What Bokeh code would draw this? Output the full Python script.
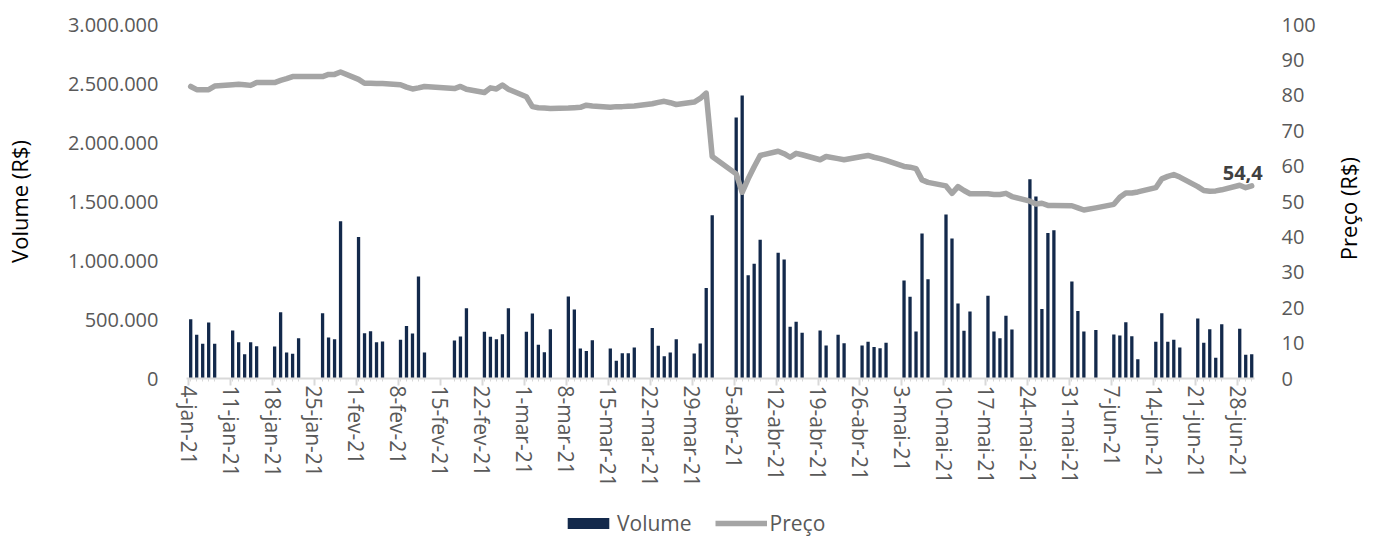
import math
import pandas as pd
from bokeh.plotting import figure
from bokeh.layouts import gridplot
from bokeh.models import (Range1d, LinearAxis, FixedTicker, CustomJSTickFormatter,
                          Legend, LegendItem, Label, ColumnDataSource)
from bokeh.embed import file_html
from bokeh.resources import INLINE

# ---------------- data ----------------
dates = [
    "2021-01-04", "2021-01-05", "2021-01-06", "2021-01-07", "2021-01-08",
    "2021-01-11", "2021-01-12", "2021-01-13", "2021-01-14", "2021-01-15",
    "2021-01-18", "2021-01-19", "2021-01-20", "2021-01-21", "2021-01-22",
    "2021-01-26", "2021-01-27", "2021-01-28", "2021-01-29",
    "2021-02-01", "2021-02-02", "2021-02-03", "2021-02-04", "2021-02-05",
    "2021-02-08", "2021-02-09", "2021-02-10", "2021-02-11", "2021-02-12",
    "2021-02-17", "2021-02-18", "2021-02-19",
    "2021-02-22", "2021-02-23", "2021-02-24", "2021-02-25", "2021-02-26",
    "2021-03-01", "2021-03-02", "2021-03-03", "2021-03-04", "2021-03-05",
    "2021-03-08", "2021-03-09", "2021-03-10", "2021-03-11", "2021-03-12",
    "2021-03-15", "2021-03-16", "2021-03-17", "2021-03-18", "2021-03-19",
    "2021-03-22", "2021-03-23", "2021-03-24", "2021-03-25", "2021-03-26",
    "2021-03-29", "2021-03-30", "2021-03-31", "2021-04-01",
    "2021-04-05", "2021-04-06", "2021-04-07", "2021-04-08", "2021-04-09",
    "2021-04-12", "2021-04-13", "2021-04-14", "2021-04-15", "2021-04-16",
    "2021-04-19", "2021-04-20", "2021-04-22", "2021-04-23",
    "2021-04-26", "2021-04-27", "2021-04-28", "2021-04-29", "2021-04-30",
    "2021-05-03", "2021-05-04", "2021-05-05", "2021-05-06", "2021-05-07",
    "2021-05-10", "2021-05-11", "2021-05-12", "2021-05-13", "2021-05-14",
    "2021-05-17", "2021-05-18", "2021-05-19", "2021-05-20", "2021-05-21",
    "2021-05-24", "2021-05-25", "2021-05-26", "2021-05-27", "2021-05-28",
    "2021-05-31", "2021-06-01", "2021-06-02", "2021-06-04",
    "2021-06-07", "2021-06-08", "2021-06-09", "2021-06-10", "2021-06-11",
    "2021-06-14", "2021-06-15", "2021-06-16", "2021-06-17", "2021-06-18",
    "2021-06-21", "2021-06-22", "2021-06-23", "2021-06-24", "2021-06-25",
    "2021-06-28", "2021-06-29", "2021-06-30",
]

volume = [
    503000, 370000, 294000, 475000, 294000,
    407000, 308000, 206000, 308000, 274000,
    271000, 562000, 220000, 209000, 342000,
    554000, 347000, 333000, 1333000,
    1200000, 384000, 401000, 308000, 314000,
    328000, 444000, 381000, 864000, 220000,
    322000, 356000, 596000,
    396000, 353000, 333000, 376000, 596000,
    396000, 551000, 285000, 223000, 418000,
    695000, 585000, 254000, 232000, 325000,
    254000, 150000, 215000, 215000, 263000,
    427000, 277000, 189000, 220000, 333000,
    212000, 297000, 766000, 1384000,
    2212000, 2398000, 876000, 972000, 1175000,
    1065000, 1009000, 438000, 480000, 387000,
    407000, 280000, 370000, 299000,
    280000, 311000, 268000, 257000, 302000,
    831000, 692000, 398000, 1229000, 842000,
    1390000, 1187000, 636000, 404000, 568000,
    701000, 398000, 342000, 531000, 415000,
    1689000, 1542000, 590000, 1232000, 1257000,
    822000, 573000, 398000, 412000,
    373000, 364000, 477000, 359000, 164000,
    311000, 554000, 311000, 328000, 263000,
    509000, 302000, 418000, 175000, 460000,
    421000, 201000, 206000,
]

price = [
    82.5, 81.6, 81.6, 81.6, 82.6,
    83.0, 83.1, 83.0, 82.8, 83.6,
    83.6, 84.2, 84.7, 85.3, 85.3,
    85.3, 85.9, 85.9, 86.6,
    84.5, 83.4, 83.4, 83.3, 83.3,
    83.0, 82.3, 81.8, 82.1, 82.5,
    81.9, 82.5, 81.7,
    80.8, 82.1, 81.8, 82.9, 81.7,
    79.6, 76.8, 76.5, 76.4, 76.3,
    76.4, 76.5, 76.6, 77.2, 77.0,
    76.6, 76.8, 76.8, 76.9, 77.0,
    77.6, 78.0, 78.3, 77.9, 77.4,
    78.1, 79.1, 80.6, 62.7,
    57.8, 52.6, 56.4, 59.8, 63.0,
    64.2, 63.5, 62.5, 63.6, 63.2,
    61.8, 62.7, 62.1, 61.8,
    62.7, 63.0, 62.5, 62.1, 61.6,
    59.9, 59.7, 59.3, 56.1, 55.4,
    54.4, 52.3, 54.2, 53.1, 52.2,
    52.2, 52.0, 52.0, 52.3, 51.4,
    50.1, 49.3, 49.5, 48.9, 48.9,
    48.8, 48.2, 47.6, 48.2,
    49.2, 51.2, 52.4, 52.4, 52.7,
    53.9, 56.4, 57.1, 57.6, 56.9,
    54.2, 53.1, 52.9, 53.0, 53.3,
    54.6, 53.9, 54.4,
]

week_ticks = [
    "2021-01-04", "2021-01-11", "2021-01-18", "2021-01-25", "2021-02-01",
    "2021-02-08", "2021-02-15", "2021-02-22", "2021-03-01", "2021-03-08",
    "2021-03-15", "2021-03-22", "2021-03-29", "2021-04-05", "2021-04-12",
    "2021-04-19", "2021-04-26", "2021-05-03", "2021-05-10", "2021-05-17",
    "2021-05-24", "2021-05-31", "2021-06-07", "2021-06-14", "2021-06-21",
    "2021-06-28",
]
last_label = "54,4"
right_title = "Preço (R$)"

# ---------------- chart ----------------
DAY = 86400000.0
dt = pd.to_datetime(dates)
src = ColumnDataSource(dict(x=dt, volume=volume, price=price))

first_ms = pd.Timestamp(dates[0]).value / 1e6
last_ms = pd.Timestamp(dates[-1]).value / 1e6
x_start = first_ms - 0.7 * DAY
axis_end = last_ms + 0.45 * DAY          # end of the drawn x axis line
x_end = last_ms + 2.8 * DAY              # frame a bit wider so the end label is not cut

FONT = "Open Sans"
GRAY = "#595959"
NAVY = "#13294B"
LINEGRAY = "#A5A5A5"

MAIN_W, TITLE_W = 1336, 28
B_LEFT, B_RIGHT, B_TOP, B_BOTTOM = 181, 68, 24, 119
MAIN_H, LEG_H = 497, 40

p = figure(width=MAIN_W, height=MAIN_H, x_axis_type="datetime",
           x_range=Range1d(x_start, x_end), y_range=Range1d(0, 3000000),
           output_backend="svg", toolbar_location=None,
           min_border_left=B_LEFT, min_border_right=B_RIGHT,
           min_border_top=B_TOP, min_border_bottom=B_BOTTOM)
p.extra_y_ranges = {"price": Range1d(0, 100)}
p.outline_line_color = None
p.xgrid.visible = False
p.ygrid.visible = False

p.vbar(x="x", top="volume", width=0.55 * DAY, source=src,
       fill_color=NAVY, line_color=None)
p.line(x="x", y="price", source=src, y_range_name="price",
       line_color=LINEGRAY, line_width=5.5, line_join="round", line_cap="round")

# x axis
tick_vals = [pd.Timestamp(d).value / 1e6 - 0.35 * DAY for d in week_ticks]
minor_vals = [pd.Timestamp(d).value / 1e6 for d in dates]
xa = p.xaxis[0]
xa.bounds = (x_start, axis_end)
xa.ticker = FixedTicker(ticks=tick_vals, minor_ticks=minor_vals)
xa.formatter = CustomJSTickFormatter(code="""
const m=['jan','fev','mar','abr','mai','jun','jul','ago','set','out','nov','dez'];
const d=new Date(tick+43200000);
return d.getUTCDate()+'-'+m[d.getUTCMonth()]+'-'+String(d.getUTCFullYear()).slice(2);
""")
xa.major_label_orientation = -math.pi / 2
xa.axis_line_color = "#D9D9D9"
xa.axis_line_width = 2
xa.major_tick_line_color = "#D9D9D9"
xa.major_tick_line_width = 2
xa.major_tick_in = 0
xa.major_tick_out = 7
xa.minor_tick_line_color = "#D9D9D9"
xa.minor_tick_in = 0
xa.minor_tick_out = 3
xa.major_label_standoff = 0
xa.major_label_text_font = FONT
xa.major_label_text_font_size = "21px"
xa.major_label_text_color = GRAY

# left axis
ya = p.yaxis[0]
ya.ticker = FixedTicker(ticks=[0, 500000, 1000000, 1500000, 2000000, 2500000, 3000000])
ya.formatter = CustomJSTickFormatter(code="""
return Math.round(tick).toString().replace(/\\B(?=(\\d{3})+(?!\\d))/g, '.');
""")
ya.axis_line_color = None
ya.major_tick_line_color = None
ya.minor_tick_line_color = None
ya.major_label_standoff = 22
ya.major_label_text_font = FONT
ya.major_label_text_font_size = "20px"
ya.major_label_text_color = GRAY
ya.axis_label = "Volume (R$)"
ya.axis_label_text_font = FONT
ya.axis_label_text_font_size = "22px"
ya.axis_label_text_font_style = "normal"
ya.axis_label_text_color = "#000000"
ya.axis_label_standoff = 31

# right axis (its title is drawn in the narrow strip to the right)
ra = LinearAxis(y_range_name="price", ticker=FixedTicker(ticks=list(range(0, 101, 10))))
ra.axis_line_color = None
ra.major_tick_line_color = None
ra.minor_tick_line_color = None
ra.major_label_standoff = 7
ra.major_label_text_font = FONT
ra.major_label_text_font_size = "20px"
ra.major_label_text_color = GRAY
p.add_layout(ra, "right")

# last value label
lab = Label(x=minor_vals[-1], y=price[-1], y_range_name="price", text=last_label,
            x_offset=-9, y_offset=13, text_align="center", text_baseline="alphabetic",
            text_font=FONT, text_font_size="20px", text_font_style="bold",
            text_color="#404040")
p.add_layout(lab)

# narrow strip holding the right axis title, reading bottom-to-top
r = figure(width=TITLE_W, height=MAIN_H, x_range=Range1d(0, 1), y_range=Range1d(0, 1),
           output_backend="svg", toolbar_location=None,
           x_axis_location=None, y_axis_location=None,
           min_border_left=0, min_border_right=0,
           min_border_top=B_TOP, min_border_bottom=B_BOTTOM)
r.outline_line_color = None
r.xgrid.visible = False
r.ygrid.visible = False
r.add_layout(Label(x=0.42, y=0.48, text=right_title, angle=math.pi / 2,
                   text_align="center", text_baseline="middle",
                   text_font=FONT, text_font_size="22px", text_color="#000000"))

# legend strip (separate small figure so nothing gets clipped)
q = figure(width=MAIN_W, height=LEG_H, x_range=Range1d(0, 1), y_range=Range1d(0, 1),
           output_backend="svg", toolbar_location=None,
           x_axis_location=None, y_axis_location=None,
           min_border_left=B_LEFT, min_border_right=B_RIGHT,
           min_border_top=0, min_border_bottom=0)
q.outline_line_color = None
q.xgrid.visible = False
q.ygrid.visible = False
# legend-only renderers: their data lie below the visible range
rb = q.vbar(x=[0.5], bottom=[-3], top=[-2], width=0.1, fill_color=NAVY, line_color=None)
rl = q.line(x=[0.4, 0.6], y=[-3, -3], line_color=LINEGRAY, line_width=5.5)
legend = Legend(items=[LegendItem(label="Volume", renderers=[rb]),
                       LegendItem(label="Preço", renderers=[rl])],
                orientation="horizontal", location=(376, 0),
                glyph_width=52, glyph_height=14, label_standoff=3, spacing=23,
                padding=0, margin=0, label_height=20,
                label_text_font=FONT, label_text_font_size="21px",
                label_text_color=GRAY, border_line_color=None,
                background_fill_alpha=0)
q.add_layout(legend, "center")

layout = gridplot([[p, r], [q, None]], toolbar_location=None)
open("out.html", "w").write(file_html(layout, INLINE))
